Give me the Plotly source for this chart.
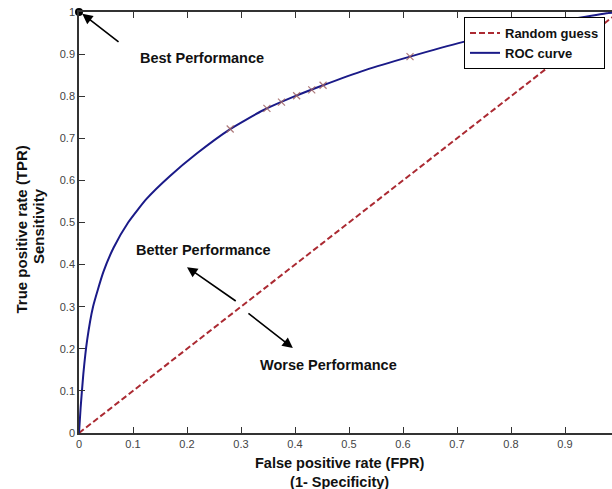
import plotly.graph_objects as go

# ---- data ----
roc_fpr = [0.0, 0.003, 0.008, 0.015, 0.026, 0.045, 0.064, 0.091, 0.125, 0.168, 0.218,
           0.28, 0.34, 0.40, 0.452, 0.53, 0.613, 0.712, 0.80, 0.90, 0.977, 1.0]
roc_tpr = [0.0, 0.06, 0.14, 0.22, 0.30, 0.382, 0.440, 0.500, 0.556, 0.610, 0.664,
           0.722, 0.766, 0.800, 0.826, 0.862, 0.894, 0.929, 0.955, 0.980, 0.997, 1.0]

thr_fpr = [0.28, 0.348, 0.375, 0.403, 0.431, 0.452, 0.613]
thr_tpr = [0.722, 0.771, 0.786, 0.801, 0.815, 0.826, 0.894]

rand_fpr = [0.0, 1.0]
rand_tpr = [0.0, 1.0]

best_fpr = [0.0]
best_tpr = [1.0]

x_tickvals = [0, 0.1, 0.2, 0.3, 0.4, 0.5, 0.6, 0.7, 0.8, 0.9]
x_ticktext = ["0", "0.1", "0.2", "0.3", "0.4", "0.5", "0.6", "0.7", "0.8", "0.9"]
y_tickvals = [0, 0.1, 0.2, 0.3, 0.4, 0.5, 0.6, 0.7, 0.8, 0.9, 1.0]
y_ticktext = ["0", "0.1", "0.2", "0.3", "0.4", "0.5", "0.6", "0.7", "0.8", "0.9", "1"]

FONT = "Liberation Sans, Arial, sans-serif"

L, R, T, B = 79, 0, 12, 56
W, H = 612, 489
pw, ph = W - L - R, H - T - B

fig = go.Figure()

fig.add_trace(go.Scatter(
    x=rand_fpr, y=rand_tpr, mode="lines", name="<b>Random guess</b>",
    line=dict(color="#ab2a32", width=2, dash="6px,3px"),
))
fig.add_trace(go.Scatter(
    x=roc_fpr, y=roc_tpr, mode="lines", name="<b>ROC curve</b>",
    line=dict(color="#1a1a88", width=2, shape="spline", smoothing=0.5),
))
fig.add_trace(go.Scatter(
    x=thr_fpr, y=thr_tpr, mode="markers", showlegend=False,
    marker=dict(symbol="x-thin", size=7, line=dict(color="rgba(160,100,100,0.85)", width=1.2)),
))
fig.add_trace(go.Scatter(
    x=best_fpr, y=best_tpr, mode="markers", showlegend=False,
    marker=dict(symbol="circle", size=8, color="black"), cliponaxis=False,
))

annots = []
def arrow(x, y, ax, ay):
    annots.append(dict(x=x, y=y, ax=ax, ay=ay, xref="x", yref="y", axref="x", ayref="y",
                       text="", showarrow=True, arrowhead=2, arrowsize=1.3,
                       arrowwidth=1.6, arrowcolor="black"))

arrow(0.006, 0.996, 0.076, 0.926)
arrow(0.200, 0.394, 0.293, 0.311)
arrow(0.396, 0.202, 0.311, 0.287)

def label(x, y, t):
    annots.append(dict(x=x, y=y, xref="x", yref="y", text=t, showarrow=False,
                       font=dict(family=FONT, size=14.5, color="#111"),
                       xanchor="center", yanchor="middle"))

label(0.228, 0.891, "<b>Best Performance</b>")
label(0.231, 0.435, "<b>Better Performance</b>")
label(0.462, 0.162, "<b>Worse Performance</b>")

def px_x(p):
    return (p - L) / pw

def px_y(p):
    return (H - B - p) / ph

# axis titles (positioned in pixels, converted to paper coords)
annots.append(dict(x=0.483, y=px_y(472), xref="x", yref="paper",
                   text="<b>False positive rate (FPR)</b><br><b>(1- Specificity)</b>",
                   showarrow=False, xanchor="center", yanchor="middle", align="center",
                   font=dict(family=FONT, size=14.5, color="#111")))
annots.append(dict(x=px_x(21), y=px_y(229.5), xref="paper", yref="paper",
                   text="<b>True positive rate (TPR)</b>", textangle=-90, showarrow=False,
                   xanchor="center", yanchor="middle",
                   font=dict(family=FONT, size=15, color="#111")))
annots.append(dict(x=px_x(38.5), y=px_y(226.5), xref="paper", yref="paper",
                   text="<b>Sensitivity</b>", textangle=-90, showarrow=False,
                   xanchor="center", yanchor="middle",
                   font=dict(family=FONT, size=15, color="#111")))

fig.update_layout(
    width=W, height=H,
    margin=dict(l=L, r=R, t=T, b=B, pad=0, autoexpand=False),
    paper_bgcolor="white", plot_bgcolor="white",
    showlegend=True,
    legend=dict(x=px_x(464), y=px_y(17), xanchor="left", yanchor="top",
                bgcolor="white", bordercolor="black", borderwidth=1,
                font=dict(family=FONT, size=13, color="#111"),
                itemwidth=30, tracegroupgap=0),
    annotations=annots,
    font=dict(family=FONT),
)
fig.update_xaxes(range=[0, pw / 540.0], tickvals=x_tickvals, ticktext=x_ticktext,
                 automargin=False,
                 showgrid=False, zeroline=False, showline=True, linecolor="#333", linewidth=1.5,
                 mirror="ticks", ticks="inside", ticklen=6, tickwidth=1.3, tickcolor="#333",
                 tickfont=dict(family=FONT, size=11, color="#444"))
fig.update_yaxes(range=[0, 1], tickvals=y_tickvals, ticktext=y_ticktext,
                 automargin=False,
                 showgrid=False, zeroline=False, showline=True, linecolor="#333", linewidth=1.5,
                 ticks="inside", ticklen=6, tickwidth=1.3, tickcolor="#333",
                 tickfont=dict(family=FONT, size=11, color="#444"))

fig.write_html("out.html", config={"displayModeBar": False},
               post_script="document.body.style.margin='0px';document.body.style.overflow='hidden';")
